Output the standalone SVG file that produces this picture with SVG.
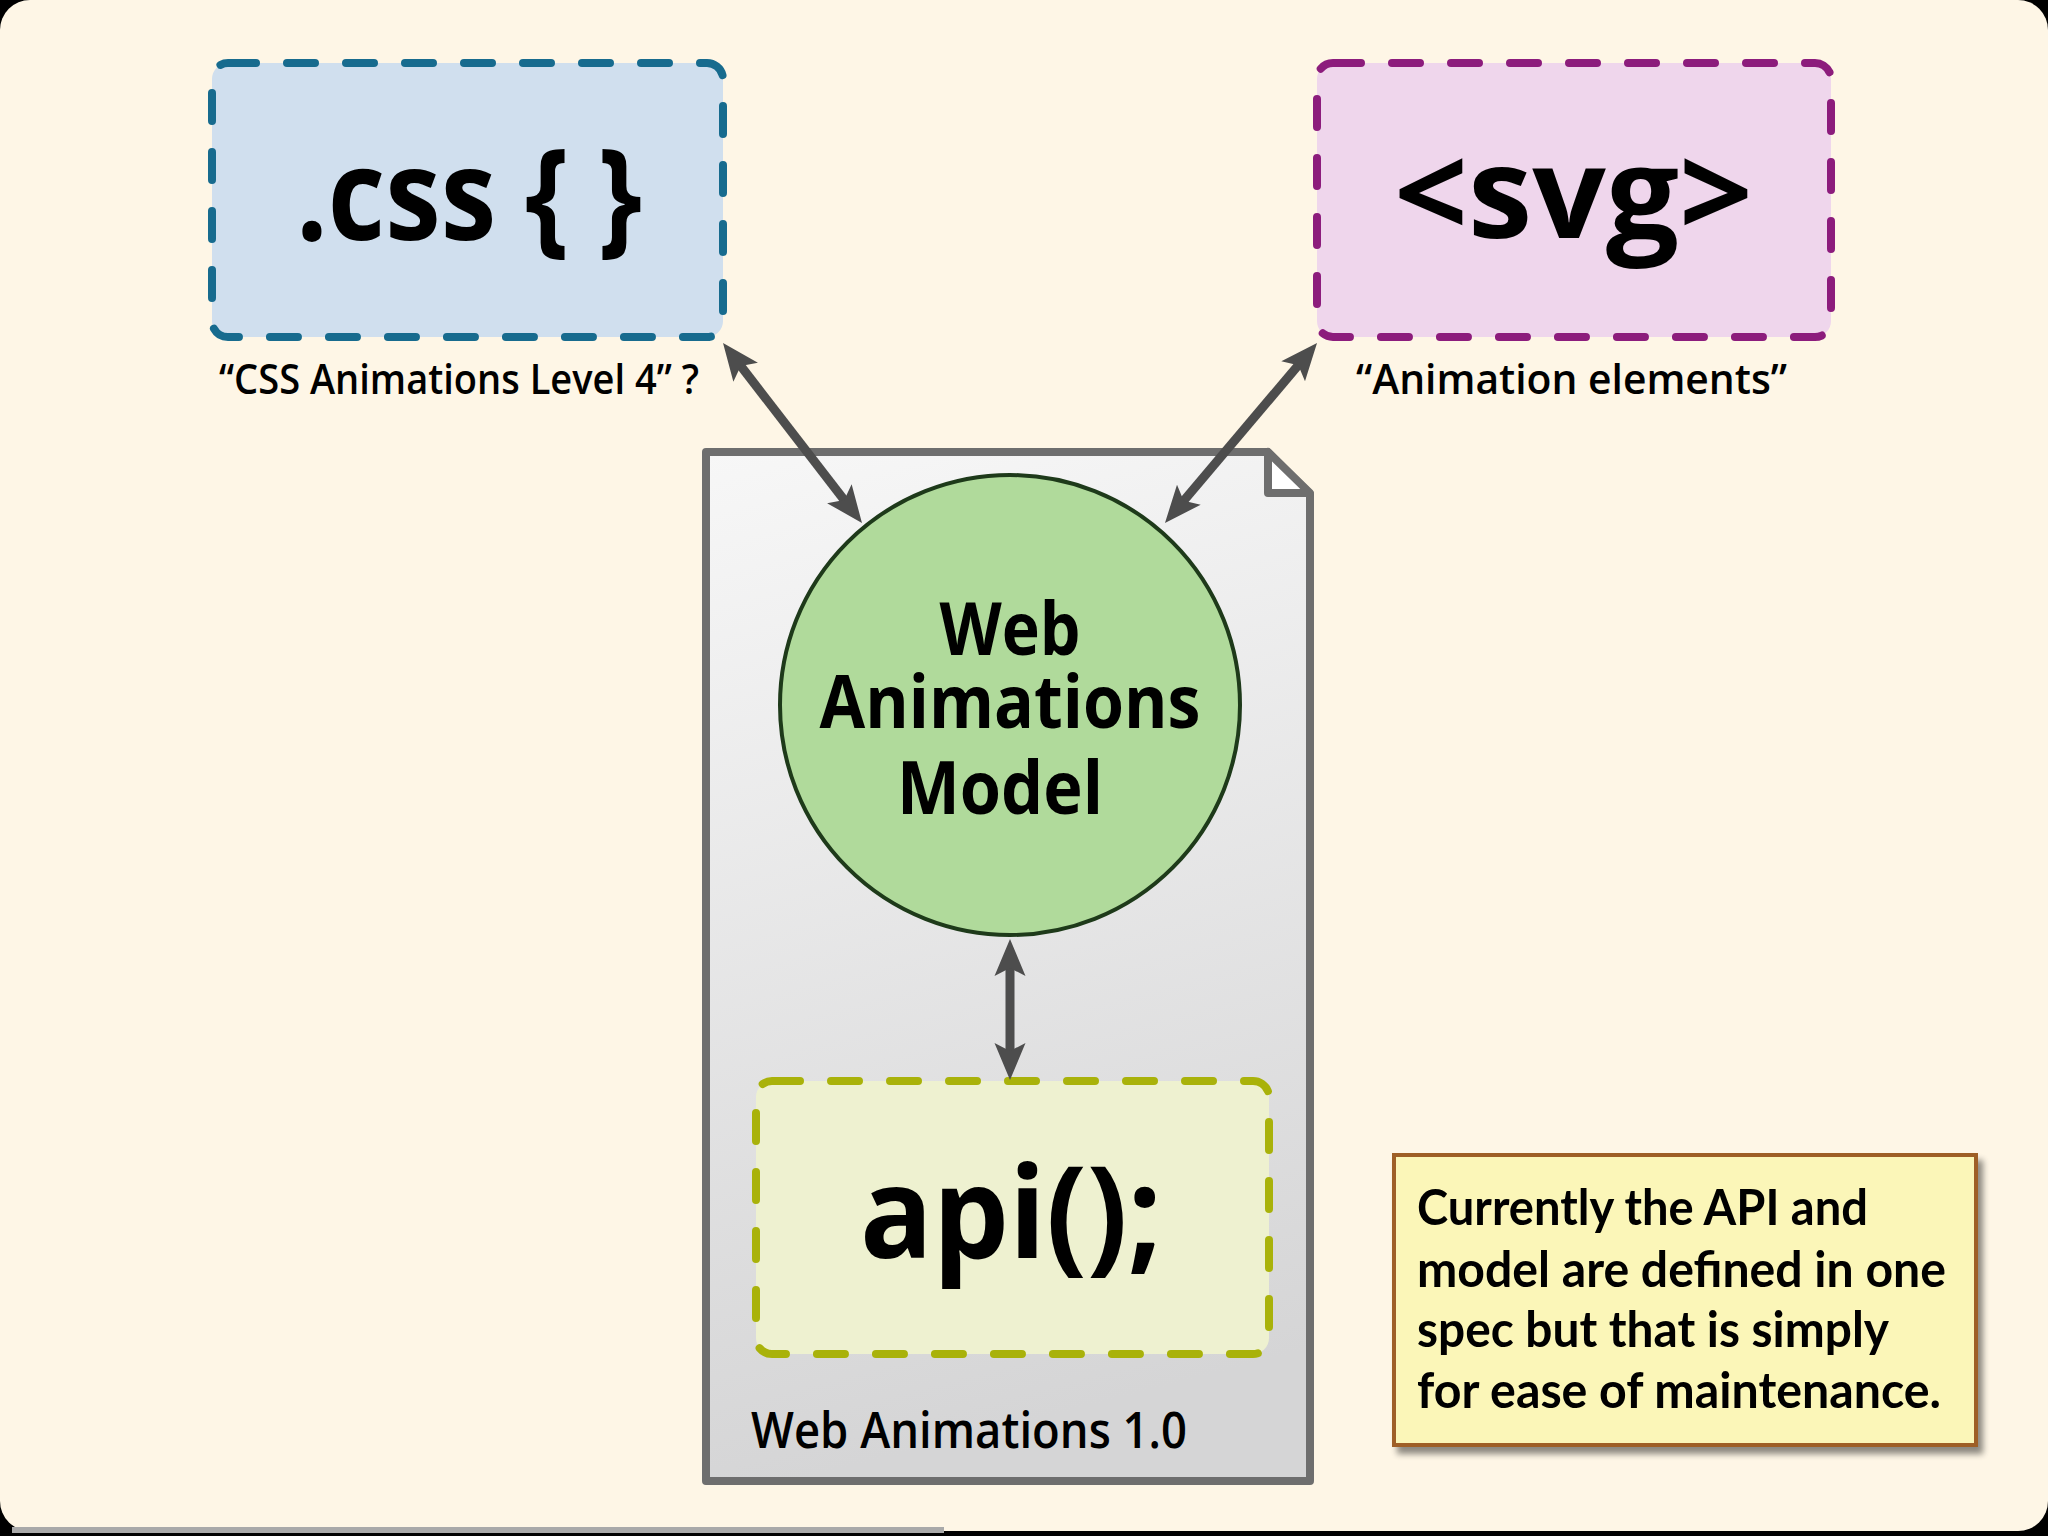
<svg xmlns="http://www.w3.org/2000/svg" width="2048" height="1536" viewBox="0 0 2048 1536">
  <defs>
    <style>
      .big { font-family: "Open Sans", "Noto Sans", "DejaVu Sans", sans-serif; font-weight: 700; font-size: 128px; fill: #000; }
      .circ { font-family: "Open Sans", "Noto Sans", "DejaVu Sans", sans-serif; font-weight: 700; font-size: 73px; fill: #000; text-anchor: middle; }
      .cap { font-family: "Open Sans", "Noto Sans", "DejaVu Sans", sans-serif; font-weight: 600; font-size: 42px; fill: #000; }
      .doclbl { font-family: "Open Sans", "Noto Sans", "DejaVu Sans", sans-serif; font-weight: 600; font-size: 50px; fill: #000; }
      .note { font-family: "Lato", "Open Sans", "DejaVu Sans", sans-serif; font-weight: 700; font-size: 50px; fill: #000; }
      .dash { stroke-width: 8; stroke-linecap: round; stroke-dasharray: 28 31; }
      .conn { stroke: #4d4d4d; stroke-width: 9; fill: none; marker-start: url(#ah); marker-end: url(#ah); }
    </style>
    <marker id="ah" viewBox="-40 -18 44 36" markerWidth="44" markerHeight="36" refX="-25" refY="0" orient="auto-start-reverse" markerUnits="userSpaceOnUse">
      <path d="M0,0 L-37,-15.5 L-29,0 L-37,15.5 Z" fill="#4d4d4d"/>
    </marker>
    <linearGradient id="docfill" x1="0" y1="0" x2="0.15" y2="1">
      <stop offset="0" stop-color="#f7f7f7"/>
      <stop offset="1" stop-color="#d5d5d6"/>
    </linearGradient>
    <filter id="shadow" x="-10%" y="-10%" width="125%" height="130%">
      <feGaussianBlur in="SourceAlpha" stdDeviation="3"/>
      <feOffset dx="5" dy="7" result="b"/>
      <feComponentTransfer><feFuncA type="linear" slope="0.45"/></feComponentTransfer>
      <feMerge><feMergeNode/><feMergeNode in="SourceGraphic"/></feMerge>
    </filter>
  </defs>

  <!-- slide background -->
  <rect x="0" y="0" width="2048" height="1536" fill="#000"/>
  <rect x="0" y="0" width="2048" height="1531" rx="30" ry="30" fill="#fef6e6"/>
  <rect x="12" y="1527" width="932" height="6" fill="#a9a9a9"/>

  <!-- document container -->
  <g id="doc">
    <path d="M706,452 H1268 L1310,494 V1481 H706 Z" fill="url(#docfill)" stroke="#6e6e6e" stroke-width="8" stroke-linejoin="round"/>
    <path d="M1268,452 V493 H1310 Z" fill="#ffffff" stroke="#6e6e6e" stroke-width="8" stroke-linejoin="round"/>
    <text class="doclbl" x="751" y="1448" textLength="436" lengthAdjust="spacingAndGlyphs">Web Animations 1.0</text>
  </g>

  <g id="css">
    <rect class="dash" x="212" y="63" width="511" height="274" rx="16" fill="#d0dfee" stroke="#176b8e"/>
    <text class="big" x="296" y="240" textLength="346" lengthAdjust="spacingAndGlyphs">.css { }</text>
    <text class="cap" x="219" y="394" textLength="480" lengthAdjust="spacingAndGlyphs">“CSS Animations Level 4” ?</text>
  </g>

  <g id="svg">
    <rect class="dash" x="1317" y="63" width="514" height="274" rx="16" fill="#efd6ec" stroke="#8c1c7c"/>
    <text class="big" x="1394" y="238" textLength="359" lengthAdjust="spacingAndGlyphs">&lt;svg&gt;</text>
    <text class="cap" x="1356" y="394" textLength="431" lengthAdjust="spacingAndGlyphs">“Animation elements”</text>
  </g>

  <g id="model">
    <circle cx="1010" cy="705" r="230" fill="#b0da9b" stroke="#1e3a1a" stroke-width="4"/>
    <text class="circ" x="1010" y="655" textLength="141" lengthAdjust="spacingAndGlyphs">Web</text>
    <text class="circ" x="1010" y="728" textLength="381" lengthAdjust="spacingAndGlyphs">Animations</text>
    <text class="circ" x="1000" y="814" textLength="206" lengthAdjust="spacingAndGlyphs">Model</text>
  </g>

  <g id="api">
    <rect class="dash" x="756" y="1081" width="513" height="273" rx="16" fill="#eef1d0" stroke="#a9b20a"/>
    <text class="big" x="860" y="1258" textLength="302" lengthAdjust="spacingAndGlyphs">api();</text>
  </g>

  <g id="note" filter="url(#shadow)">
    <rect x="1394" y="1155" width="582" height="290" fill="#fbf6b8" stroke="#9e5f28" stroke-width="4"/>
    <text class="note" x="1417" y="1225" textLength="451" lengthAdjust="spacingAndGlyphs">Currently the API and</text>
    <text class="note" x="1417" y="1287" textLength="529" lengthAdjust="spacingAndGlyphs">model are defined in one</text>
    <text class="note" x="1417" y="1347" textLength="472" lengthAdjust="spacingAndGlyphs">spec but that is simply</text>
    <text class="note" x="1417" y="1408" textLength="524" lengthAdjust="spacingAndGlyphs">for ease of maintenance.</text>
  </g>

  <g id="connectors">
    <line class="conn" x1="738.3" y1="362.8" x2="846.7" y2="503.2"/>
    <line class="conn" x1="1300.9" y1="362.1" x2="1181.1" y2="503.9"/>
    <line class="conn" x1="1010" y1="964" x2="1010" y2="1055"/>
  </g>
</svg>
